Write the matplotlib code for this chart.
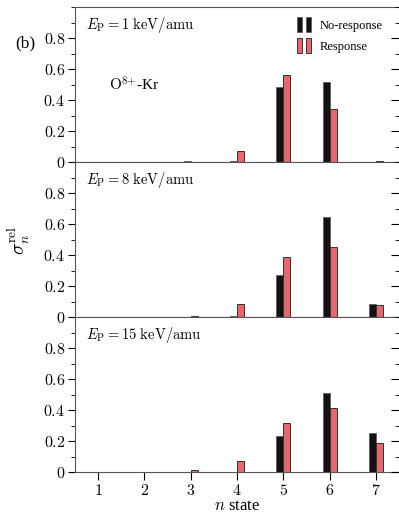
import numpy as np
import matplotlib
matplotlib.use('Agg')
import matplotlib.pyplot as plt
from matplotlib.patches import Patch
from matplotlib.legend_handler import HandlerTuple
from matplotlib.ticker import FuncFormatter, MultipleLocator

plt.rcParams['mathtext.fontset'] = 'cm'
plt.rcParams['font.family'] = 'serif'
plt.rcParams['font.serif'] = ['Liberation Serif', 'DejaVu Serif']

# data
n_states = [1, 2, 3, 4, 5, 6, 7]
energies = ['1', '8', '15']
no_resp_1 = [0.0, 0.0, 0.005, 0.005, 0.482, 0.515, 0.003]
resp_1 = [0.0, 0.0, 0.0, 0.071, 0.565, 0.346, 0.01]
no_resp_8 = [0.0, 0.0, 0.004, 0.005, 0.275, 0.648, 0.086]
resp_8 = [0.0, 0.0, 0.008, 0.086, 0.386, 0.45, 0.08]
no_resp_15 = [0.0, 0.0, 0.0, 0.004, 0.232, 0.514, 0.252]
resp_15 = [0.0, 0.0, 0.012, 0.071, 0.316, 0.413, 0.187]
no_resp = [no_resp_1, no_resp_8, no_resp_15]
resp = [resp_1, resp_8, resp_15]

black = '#151112'
red = '#e8666d'
w = 0.15

fig = plt.figure(figsize=(3.99, 5.14), dpi=100)
left, right = 0.188, 1.0
top, h = 0.986, 0.3016
x = np.array(n_states)
fmt = FuncFormatter(lambda v, p: r'$%g$' % round(v, 1))

for i in range(3):
    ax = fig.add_axes([left, top - (i + 1) * h, right - left, h])
    ax.bar(x - w / 2, no_resp[i], w, color=black, edgecolor='#555555', lw=0.5, label='No-response')
    ax.bar(x + w / 2, resp[i], w, color=red, edgecolor='#333333', lw=0.7, label='Response')
    ax.set_xlim(0.5, 7.5)
    ax.set_ylim(0, 1.0)
    ax.set_xticks(n_states)
    ax.yaxis.set_minor_locator(MultipleLocator(0.1))
    ax.set_yticks([0, 0.2, 0.4, 0.6, 0.8])
    ax.yaxis.set_major_formatter(fmt)
    ax.tick_params(axis='y', which='major', direction='out', length=5, labelsize=11.5, pad=2)
    ax.tick_params(axis='y', which='minor', direction='out', length=3)
    ax.tick_params(axis='x', direction='out', length=6, labelsize=11.5, pad=2)
    for s in ax.spines.values():
        s.set_color('#555555')
        s.set_linewidth(0.8)
    ax.spines['right'].set_visible(False)
    # right side ticks pointing inward
    ax2 = ax.twinx()
    ax2.set_ylim(0, 1.0)
    ax2.set_yticks([0, 0.2, 0.4, 0.6, 0.8])
    ax2.yaxis.set_minor_locator(MultipleLocator(0.1))
    ax2.tick_params(axis='y', which='major', direction='in', length=6, labelright=False)
    ax2.tick_params(axis='y', which='minor', direction='in', length=3)
    for s in ax2.spines.values():
        s.set_visible(False)
    if i < 2:
        ax.set_xticklabels([])
    else:
        ax.xaxis.set_major_formatter(FuncFormatter(lambda v, p: r'$%d$' % v))
        ax.set_xlabel(r'$n$ state', fontsize=12, labelpad=-1)
    ax.text(0.035, 0.95, r'$E_{\rm P} = %s\ \mathrm{keV/amu}$' % energies[i],
            transform=ax.transAxes, fontsize=10.5, va='top', ha='left')
    if i == 0:
        ax.text(0.105, 0.50, r'$\mathrm{O}^{8{+}}$-Kr', transform=ax.transAxes,
                fontsize=11, va='center', ha='left')
        hb = (Patch(facecolor=black, edgecolor='#555555', lw=0.5),
              Patch(facecolor=black, edgecolor='#555555', lw=0.5))
        hr = (Patch(facecolor=red, edgecolor='#333333', lw=0.7),
              Patch(facecolor=red, edgecolor='#333333', lw=0.7))
        ax.legend([hb, hr], ['No-response', 'Response'],
                  handler_map={tuple: HandlerTuple(ndivide=None, pad=0.25)},
                  loc='upper right', bbox_to_anchor=(0.985, 1.01), frameon=False,
                  fontsize=9, handlelength=1.15, handleheight=1.5,
                  handletextpad=0.7, labelspacing=0.45)
    if i == 1:
        ax.set_ylabel(r'$\sigma_n^{\rm rel}$', fontsize=14, labelpad=8)

fig.text(0.063, 0.915, '(b)', fontsize=12.5, ha='center', va='center')
fig.savefig('out.png', dpi=100)
